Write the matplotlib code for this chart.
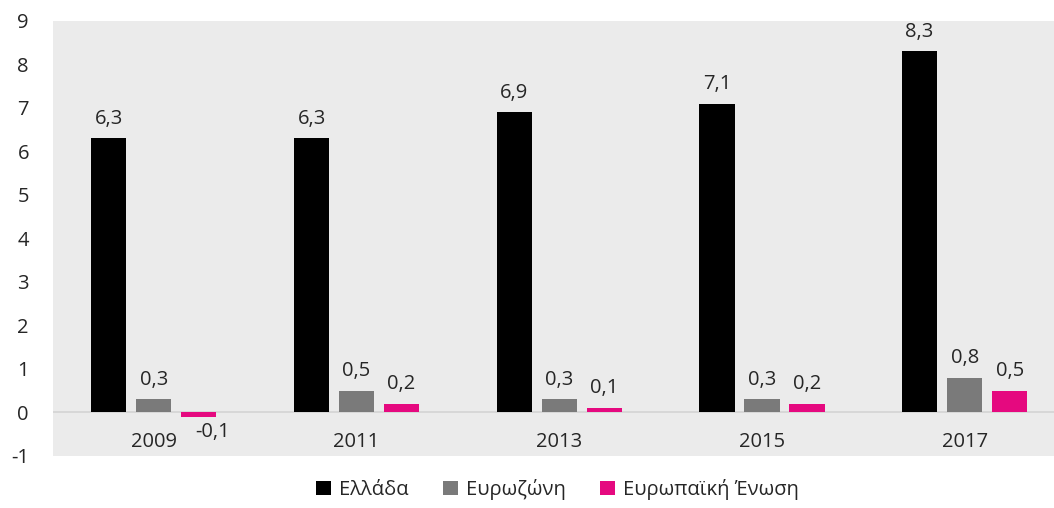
import matplotlib.pyplot as plt
import numpy as np

plt.rcParams['font.family'] = ['Open Sans', 'DejaVu Sans']
plt.rcParams['axes.unicode_minus'] = False

years = ['2009', '2011', '2013', '2015', '2017']
greece = [6.3, 6.3, 6.9, 7.1, 8.3]
eurozone = [0.3, 0.5, 0.3, 0.3, 0.8]
eu = [-0.1, 0.2, 0.1, 0.2, 0.5]
series_names = ['Ελλάδα', 'Ευρωζώνη', 'Ευρωπαϊκή Ένωση']
colors = ['#000000', '#7a7a7a', '#e5097f']
txt_color = '#262626'
fs = 14.5

fig = plt.figure(figsize=(10.54, 5.08), dpi=100)
ax = fig.add_axes([0.0499, 0.1024, 0.9615, 0.8563])
ax.set_facecolor('#ebebeb')

x = np.arange(len(years))
width = 0.173
offset = 0.222
for k, (vals, name, col) in enumerate(zip([greece, eurozone, eu], series_names, colors)):
    pos = x + (k - 1) * offset
    ax.bar(pos, vals, width, color=col, label=name, zorder=3)
    for p, v in zip(pos, vals):
        lbl = f'{v:.1f}'.replace('.', ',')
        if v >= 0:
            ax.annotate(lbl, (p, v), xytext=(0, 7), textcoords='offset points',
                        ha='center', va='bottom', fontsize=fs, color=txt_color)
        else:
            # negative label sits under the bar, nudged right like the original
            ax.annotate(lbl, (p, v), xytext=(10, -4), textcoords='offset points',
                        ha='center', va='top', fontsize=fs, color=txt_color)

ax.axhline(0, color='#d4d4d4', lw=1.2, zorder=2)
for i, yr in enumerate(years):
    ax.annotate(yr, (i, 0), xytext=(0, -14), textcoords='offset points',
                ha='center', va='top', fontsize=fs, color=txt_color)

ax.set_xlim(-0.5, len(years) - 0.5)
ax.set_ylim(-1, 9)
ax.set_yticks(range(-1, 10))
ax.set_xticks([])
ax.tick_params(axis='y', length=0, pad=17, labelsize=fs, labelcolor=txt_color)
for lab in ax.get_yticklabels():
    lab.set_horizontalalignment('right')
for s in ax.spines.values():
    s.set_visible(False)

fig.legend(loc='lower center', bbox_to_anchor=(0.529, -0.02), ncol=3, frameon=False,
           fontsize=fs, handlelength=0.75, handleheight=0.75, handletextpad=0.4,
           columnspacing=1.7, labelcolor=txt_color)

fig.savefig('out.png', dpi=100)
